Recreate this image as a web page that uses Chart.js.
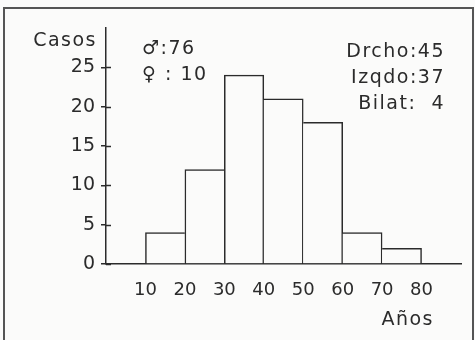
<!DOCTYPE html>
<html>
<head>
<meta charset="utf-8">
<script src="https://cdn.jsdelivr.net/npm/chart.js@4"></script>
<style>
  html, body { margin: 0; padding: 0; background: #fbfbfa; }
  #wrap { position: relative; width: 475px; height: 340px; overflow: hidden; }
  #frame { position: absolute; left: 3px; top: 7px; width: 467px; height: 360px; border: 2px solid #555; }
  canvas { position: absolute; left: 0; top: 0; }
</style>
</head>
<body>
<div id="wrap">
  <div id="frame"></div>
  <canvas id="chart" width="475" height="340"></canvas>
</div>
<script>
// age bins (años) and number of cases
const binEdges = [10, 20, 30, 40, 50, 60, 70, 80];
const casos = [4, 12, 24, 21, 18, 4, 2];
const xTicks = [10, 20, 30, 40, 50, 60, 70, 80];
const yTicks = [0, 5, 10, 15, 20, 25];
const sexLabels = ['\u2642:76', '\u2640 : 10'];
const sideLabels = ['Drcho:45', 'Izqdo:37', 'Bilat:  4'];

const ink = '#2b2b2b';
const paper = '#fbfbfa';
const font = '"DejaVu Sans", sans-serif';

const points = casos.map((v, i) => ({ x: (binEdges[i] + binEdges[i + 1]) / 2, y: v }));

// only draw each shared edge once
function edges(ctx) {
  const i = ctx.dataIndex;
  const v = casos[i];
  const prev = i > 0 ? casos[i - 1] : 0;
  const next = i < casos.length - 1 ? casos[i + 1] : 0;
  return { top: 1.5, bottom: 0, left: v >= prev ? 1.5 : 0, right: v > next ? 1.5 : 0 };
}

const extras = {
  id: 'extras',
  afterDraw(chart) {
    const c = chart.ctx;
    const y = chart.scales.y;
    c.save();
    // inner half of the y ticks
    c.strokeStyle = ink;
    c.lineWidth = 1.5;
    yTicks.forEach(t => {
      const py = Math.round(y.getPixelForValue(t)) + 0.5;
      c.beginPath();
      c.moveTo(y.right, py);
      c.lineTo(y.right + 5, py);
      c.stroke();
    });
    c.fillStyle = ink;
    c.font = '19px ' + font;
    c.letterSpacing = '1.5px';
    c.textBaseline = 'alphabetic';
    c.textAlign = 'right';
    c.fillText('Casos', 97, 46);
    c.fillText('Años', 434, 325);
    c.textAlign = 'left';
    c.fillText(sexLabels[0], 142, 54);
    c.fillText(sexLabels[1], 142, 80);
    c.textAlign = 'right';
    c.fillText(sideLabels[0], 445, 57);
    c.fillText(sideLabels[1], 445, 83);
    c.fillText(sideLabels[2], 445, 109);
    c.restore();
  }
};

new Chart(document.getElementById('chart'), {
  type: 'bar',
  data: {
    datasets: [{
      data: points,
      backgroundColor: paper,
      borderColor: ink,
      borderWidth: edges,
      borderSkipped: false,
      barPercentage: 1,
      categoryPercentage: 1
    }]
  },
  options: {
    responsive: false,
    animation: false,
    layout: { padding: { top: 28, right: 14, bottom: 0, left: 0 } },
    plugins: { legend: { display: false }, tooltip: { enabled: false } },
    scales: {
      x: {
        type: 'linear',
        min: 0,
        max: 90,
        offset: false,
        afterBuildTicks: s => { s.ticks = xTicks.map(v => ({ value: v })); },
        afterFit: s => { s.height = 76; },
        grid: { display: false, offset: false },
        border: { display: true, color: ink, width: 1.5 },
        ticks: { color: ink, font: { family: font, size: 18 }, padding: 8, maxRotation: 0, autoSkip: false }
      },
      y: {
        min: 0,
        max: 30,
        afterBuildTicks: s => { s.ticks = yTicks.map(v => ({ value: v })); },
        afterFit: s => { s.width = 106; },
        grid: { drawOnChartArea: false, drawTicks: true, tickLength: 5, color: ink, lineWidth: 1.5 },
        border: { display: true, color: ink, width: 1.5 },
        ticks: { color: ink, font: { family: font, size: 19 }, padding: 6 }
      }
    }
  },
  plugins: [extras]
});
</script>
</body>
</html>
